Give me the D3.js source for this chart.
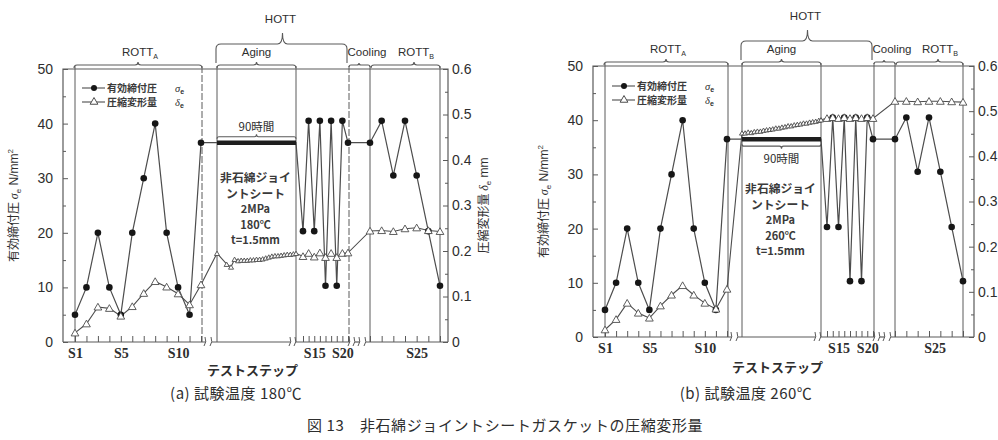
<!DOCTYPE html>
<html><head><meta charset="utf-8">
<script src="https://cdn.jsdelivr.net/npm/d3@7/dist/d3.min.js"></script>
<style>body{margin:0;background:#fff}svg{display:block}</style>
</head><body>
<script>
// ---------------- DATA ----------------
// test steps
const stepsROTTA = [1,2,3,4,5,6,7,8,9,10,11,12];
const stepsHOTT  = [13,14,15,16,17,18,19,20,21];
const stepsROTTB = [22,23,24,25,26,27,28];
// effective gasket stress sigma_e (N/mm2) - same in both panels
const sigmaROTTA = [5,10,20,10,5,20,30,40,20,10,5,36.5];
const sigmaHOTT  = [20.3,40.5,20.3,40.5,10.3,40.5,10.3,40.5,36.5];
const sigmaROTTB = [36.5,40.5,30.5,40.5,30.5,20.3,10.3];
const agingSigmaHours = [0,90];
const agingSigma = [36.5,36.5];
// compression deformation delta_e (mm), panel (a) 180C
const deltaA_ROTTA = [0.02,0.04,0.077,0.074,0.057,0.078,0.107,0.133,0.121,0.106,0.082,0.126];
const agingHoursA  = [0,11,16,20,24,27.5,31,34.5,38,41.5,45,48.5,52,55.5,59,62.5,66,69.5,73,76.5,80,83.5,87,90];
const deltaA_aging = [0.195,0.171,0.165,0.182,0.179,0.180,0.180,0.180,0.181,0.181,0.182,0.182,0.183,0.185,0.187,0.189,0.190,0.190,0.191,0.192,0.193,0.193,0.194,0.195];
const deltaA_HOTT  = [0.188,0.195,0.187,0.196,0.186,0.195,0.186,0.195,0.196];
const deltaA_ROTTB = [0.244,0.245,0.243,0.249,0.251,0.245,0.243];
// panel (b) 260C
const deltaB_ROTTA = [0.016,0.039,0.075,0.053,0.042,0.069,0.093,0.114,0.093,0.075,0.062,0.106];
const agingHoursB  = [0,3.5,7,10.5,14,17.5,21,24.5,28,31.5,35,38.5,42,45.5,49,52.5,56,59.5,63,66.5,70,73.5,77,80.5,84,87.5,90];
const deltaB_aging = [0.452,0.452,0.454,0.453,0.455,0.456,0.456,0.458,0.459,0.460,0.461,0.463,0.463,0.465,0.466,0.468,0.468,0.470,0.471,0.472,0.474,0.474,0.476,0.477,0.478,0.480,0.481];
const deltaB_HOTT  = [0.484,0.486,0.484,0.486,0.484,0.486,0.484,0.486,0.484];
const deltaB_ROTTB = [0.522,0.522,0.521,0.522,0.522,0.521,0.520];
// ticks
const yTicksL = [0,10,20,30,40,50];
const yMinorL = [5,15,25,35,45];
const yTicksR = [0,0.1,0.2,0.3,0.4,0.5,0.6];
const yMinorR = [0.05,0.15,0.25,0.35,0.45,0.55];
const xTickLabels = ["S1","S5","S10","S15","S20","S25"];
const xLabelStepsA = [1,5,10,15,20,26];
const xLabelStepsB = [1,5,10,15,20,25.5];
const specimenLines = ["非石綿ジョイ","ントシート","2MPa"];

// ---------------- LAYOUT ----------------
const W=998,H=440;
const FN="'Liberation Sans', Arial, sans-serif";
const FJ="'Noto Sans CJK JP', sans-serif";
const FS="'Liberation Serif', 'DejaVu Serif', serif";
const INK="#2e2e2e", LN="#4d4d4d", FR="#5a5a5a";

const panels=[
 {L:63,R:448,T:69,B:342,knots:[75,201,303,348,370,440],age:[217,296],
  dROTTA:deltaA_ROTTA,dAgeH:agingHoursA,dAge:deltaA_aging,dHOTT:deltaA_HOTT,dROTTB:deltaA_ROTTB,
  temp:"180℃",hoursAbove:true,blockTop:182,legendY:88,labelSteps:xLabelStepsA,
  caption:"(a) 試験温度 180℃",capX:236,titleLX:18,titleRX:488,xTitleY:375,dashed:true},
 {L:593,R:974,T:66,B:337,knots:[605,727,827,873,895,963],age:[742,821],
  dROTTA:deltaB_ROTTA,dAgeH:agingHoursB,dAge:deltaB_aging,dHOTT:deltaB_HOTT,dROTTB:deltaB_ROTTB,
  temp:"260℃",hoursAbove:false,blockTop:193,legendY:86,labelSteps:xLabelStepsB,
  caption:"(b) 試験温度 260℃",capX:746,titleLX:548,titleRX:null,xTitleY:372,dashed:false}
];

const svg=d3.select("body").append("svg").attr("width",W).attr("height",H);
svg.append("rect").attr("width",W).attr("height",H).attr("fill","#fff");

function bracePath(x1,x2,y,h,px,ph,up){
  const s=up?1:-1, r=Math.min(5,h,(px-x1)/2,(x2-px)/2);
  return `M${x1},${y+s*h} L${x1},${y+s*r} Q${x1},${y} ${x1+r},${y} L${px-r},${y} Q${px},${y} ${px},${y-s*ph} Q${px},${y} ${px+r},${y} L${x2-r},${y} Q${x2},${y} ${x2},${y+s*r} L${x2},${y+s*h}`;
}
function subLabel(g,x,y,main,sub,size){
  const t=g.append("text").attr("x",x).attr("y",y).attr("text-anchor","middle")
    .attr("font-family",FN).attr("font-size",size).attr("fill",INK);
  t.append("tspan").text(main);
  t.append("tspan").text(sub).attr("font-size",size*0.62).attr("dy",size*0.25);
  return t;
}

panels.forEach(p=>{
  const g=svg.append("g");
  const yL=d3.scaleLinear([0,50],[p.B,p.T]);
  const yR=d3.scaleLinear([0,0.6],[p.B,p.T]);
  const xS=d3.scaleLinear().domain([1,12,13,21,22,28]).range(p.knots);
  const xH=d3.scaleLinear([0,90],p.age);

  // frame: left, right, top
  g.append("path").attr("d",`M${p.L},${p.B} L${p.L},${p.T} L${p.R},${p.T} L${p.R},${p.B}`)
    .attr("fill","none").attr("stroke",FR).attr("stroke-width",1.2);

  // section box lines
  const boxX=[[xS(1),false],[xS(12)+1,p.dashed],[xH(0),false],[xH(90),false],[xS(21)+1,p.dashed],[xS(22),false],[xS(28),false]];
  boxX.forEach(([x,d])=>{
    g.append("line").attr("x1",x).attr("x2",x).attr("y1",p.T-3).attr("y2",p.B)
      .attr("stroke",FR).attr("stroke-width",1).attr("stroke-dasharray",d?"7,2":null);
  });

  // bottom axis with breaks
  const gaps=[[xS(12)+5,xS(12)+11],[xH(90)-5,xH(90)],[xS(21)+2,xS(21)+7],[xS(21)+12,xS(22)-4]];
  let segs=[], cur=p.L;
  gaps.forEach(([a,b])=>{segs.push([cur,a]);cur=b;});
  segs.push([cur,p.R]);
  segs.forEach(([a,b])=>g.append("line").attr("x1",a).attr("x2",b).attr("y1",p.B).attr("y2",p.B)
     .attr("stroke",FR).attr("stroke-width",1.2));
  gaps.forEach(([a,b])=>{
    [a,b].forEach(x=>g.append("path").attr("d",`M${x-2},${p.B+4} Q${x+1},${p.B} ${x-1},${p.B-5}`)
      .attr("fill","none").attr("stroke",FR).attr("stroke-width",1));
  });
  // step ticks (inward)
  const allSteps=stepsROTTA.concat(stepsHOTT,stepsROTTB);
  const ta=g.append("g").attr("transform",`translate(0,${p.B})`)
    .call(d3.axisBottom(xS).tickValues(allSteps).tickSize(-6).tickFormat(""));
  ta.select(".domain").remove();
  ta.selectAll("line").attr("stroke",FR);
  // step labels
  const la=g.append("g").attr("transform",`translate(0,${p.B})`)
    .call(d3.axisBottom(xS).tickValues(p.labelSteps).tickSize(0).tickPadding(6)
      .tickFormat((d,i)=>xTickLabels[i]));
  la.select(".domain").remove();
  la.selectAll("text").attr("font-family",FS).attr("font-weight","bold").attr("font-size",14).attr("fill",INK);

  // left axis
  const axL=g.append("g").attr("transform",`translate(${p.L},0)`)
    .call(d3.axisLeft(yL).tickValues(yTicksL).tickSize(-5).tickPadding(10));
  axL.select(".domain").remove();
  axL.selectAll("line").attr("stroke",FR);
  axL.selectAll("text").attr("font-family",FN).attr("font-size",14).attr("fill",INK);
  const axLm=g.append("g").attr("transform",`translate(${p.L},0)`)
    .call(d3.axisLeft(yL).tickValues(yMinorL).tickSize(-3).tickFormat(""));
  axLm.select(".domain").remove(); axLm.selectAll("line").attr("stroke",FR);
  // right axis
  const axR=g.append("g").attr("transform",`translate(${p.R},0)`)
    .call(d3.axisRight(yR).tickValues(yTicksR).tickSize(-5).tickPadding(4)
      .tickFormat(d=>d===0?"0":d3.format(".1f")(d)));
  axR.select(".domain").remove();
  axR.selectAll("line").attr("stroke",FR);
  axR.selectAll("text").attr("font-family",FN).attr("font-size",14).attr("fill",INK);
  const axRm=g.append("g").attr("transform",`translate(${p.R},0)`)
    .call(d3.axisRight(yR).tickValues(yMinorR).tickSize(-3).tickFormat(""));
  axRm.select(".domain").remove(); axRm.selectAll("line").attr("stroke",FR);

  // axis titles
  const cy=(p.T+p.B)/2;
  const tl=g.append("text").attr("transform",`translate(${p.titleLX},${cy}) rotate(-90)`)
    .attr("text-anchor","middle").attr("font-size",12).attr("fill",INK).attr("font-family",FJ);
  tl.append("tspan").text("有効締付圧 ");
  tl.append("tspan").text("σ").attr("font-style","italic").attr("font-family",FS);
  tl.append("tspan").text("e").attr("font-size",8).attr("dy",3).attr("font-family",FN);
  tl.append("tspan").text(" N/mm").attr("dy",-3).attr("font-family",FN);
  tl.append("tspan").text("2").attr("font-size",8).attr("dy",-5).attr("font-family",FN);
  if(p.titleRX){
    const tr=g.append("text").attr("transform",`translate(${p.titleRX},${cy}) rotate(-90)`)
      .attr("text-anchor","middle").attr("font-size",12).attr("fill",INK).attr("font-family",FJ);
    tr.append("tspan").text("圧縮変形量 ");
    tr.append("tspan").text("δ").attr("font-style","italic").attr("font-family",FS);
    tr.append("tspan").text("e").attr("font-size",8).attr("dy",3).attr("font-family",FN);
    tr.append("tspan").text(" mm").attr("dy",-3).attr("font-family",FN);
  }
  g.append("text").attr("x",xH(45)-4).attr("y",p.xTitleY).attr("text-anchor","middle")
    .attr("font-family",FJ).attr("font-size",13).attr("font-weight","bold").attr("fill",INK).text("テストステップ");

  // braces & section labels
  const addBrace=(d)=>g.append("path").attr("d",d).attr("fill","none").attr("stroke",FR).attr("stroke-width",1.1);
  const by=p.T-4;
  addBrace(bracePath(xS(1)-1,xS(12)+1,by,3,(xS(1)+xS(12))/2,3,true));
  addBrace(bracePath(xH(0),xH(90),by,3,(xH(0)+xH(90))/2,3,true));
  addBrace(bracePath(xS(21)+1,xS(22),by,2,(xS(21)+xS(22))/2,2,true));
  addBrace(bracePath(xS(22)+1,xS(28),by,3,(xS(22)+xS(28))/2+9,3,true));
  const hy=p.T-25;
  addBrace(bracePath(xH(0)-1,xS(21)-1,hy,19,(xH(0)+xS(21))/2,11,true));
  const ly=p.T-13;
  subLabel(g,(xS(1)+xS(12))/2+2,ly,"ROTT","A",11.5);
  g.append("text").attr("x",(xH(0)+xH(90))/2).attr("y",ly).attr("text-anchor","middle")
    .attr("font-family",FN).attr("font-size",11.5).attr("fill",INK).text("Aging");
  g.append("text").attr("x",(xS(21)+xS(22))/2+8).attr("y",ly).attr("text-anchor","middle")
    .attr("font-family",FN).attr("font-size",11.5).attr("fill",INK).text("Cooling");
  subLabel(g,(xS(22)+xS(28))/2+11,ly,"ROTT","B",11.5);
  g.append("text").attr("x",(xH(0)+xS(21))/2-2).attr("y",p.T-46).attr("text-anchor","middle")
    .attr("font-family",FN).attr("font-size",11.5).attr("fill",INK).text("HOTT");

  // 90 hours annotation
  const yT=yL(agingSigma[0]);
  const ax0=xH(0), ax1=xH(90), amid=(ax0+ax1)/2;
  if(p.hoursAbove){
    addBrace(bracePath(ax0,ax1,yT-6,2,amid,2.5,true));
    g.append("text").attr("x",amid).attr("y",yT-12).attr("text-anchor","middle")
      .attr("font-family",FJ).attr("font-size",11.5).attr("fill",INK).text("90時間");
  } else {
    addBrace(bracePath(ax0,ax1,yT+7,2,amid,2.5,false));
    g.append("text").attr("x",amid).attr("y",yT+24).attr("text-anchor","middle")
      .attr("font-family",FJ).attr("font-size",11.5).attr("fill",INK).text("90時間");
  }
  // specimen text block
  const block=specimenLines.concat([p.temp,"t=1.5mm"]);
  block.forEach((s,i)=>g.append("text").attr("x",amid-1).attr("y",p.blockTop+i*15.6)
    .attr("text-anchor","middle").attr("font-family",FJ).attr("font-size",i<2?11.8:11)
    .attr("font-weight","bold").attr("fill","#3a3a3a").text(s));

  // ---- series ----
  const line=d3.line().x(d=>d.x).y(d=>d.y);
  const sig=[]
    .concat(stepsROTTA.map((s,i)=>({x:xS(s),y:yL(sigmaROTTA[i]),m:1})))
    .concat(agingSigmaHours.map((h,i)=>({x:xH(h),y:yL(agingSigma[i]),m:0})))
    .concat(stepsHOTT.map((s,i)=>({x:xS(s),y:yL(sigmaHOTT[i]),m:1})))
    .concat(stepsROTTB.map((s,i)=>({x:xS(s),y:yL(sigmaROTTB[i]),m:1})));
  const del=[]
    .concat(stepsROTTA.map((s,i)=>({x:xS(s),y:yR(p.dROTTA[i]),m:1})))
    .concat(p.dAgeH.map((h,i)=>({x:xH(h),y:yR(p.dAge[i]),m:2})))
    .concat(stepsHOTT.map((s,i)=>({x:xS(s),y:yR(p.dHOTT[i]),m:1})))
    .concat(stepsROTTB.map((s,i)=>({x:xS(s),y:yR(p.dROTTB[i]),m:1})));

  g.append("path").attr("d",line(del)).attr("fill","none").attr("stroke",LN).attr("stroke-width",1.1);
  g.append("path").attr("d",line(sig)).attr("fill","none").attr("stroke",LN).attr("stroke-width",1.2);
  g.append("path").attr("d",line(agingSigmaHours.map((h,i)=>({x:xH(h),y:yL(agingSigma[i])}))))
    .attr("fill","none").attr("stroke","#1e1e1e").attr("stroke-width",4.5);

  g.selectAll(null).data(sig.filter(d=>d.m)).join("circle")
    .attr("cx",d=>d.x).attr("cy",d=>d.y).attr("r",3.3).attr("fill","#161616");
  const triBig=d3.symbol(d3.symbolTriangle,26)(), triSmall=d3.symbol(d3.symbolTriangle,11)();
  g.selectAll(null).data(del).join("path")
    .attr("d",d=>d.m===2?triSmall:triBig)
    .attr("transform",d=>`translate(${d.x},${d.y+0.8})`)
    .attr("fill","#fff").attr("stroke",LN).attr("stroke-width",0.9);

  // legend
  const lx=p.L+19, lyy=p.legendY;
  [[0,"有効締付圧","σ"],[1,"圧縮変形量","δ"]].forEach(([k,lab,sym])=>{
    const yy=lyy+k*14;
    g.append("line").attr("x1",lx).attr("x2",lx+23).attr("y1",yy).attr("y2",yy).attr("stroke",LN).attr("stroke-width",1.1);
    if(k===0) g.append("circle").attr("cx",lx+12).attr("cy",yy).attr("r",3).attr("fill","#161616");
    else g.append("path").attr("d",triBig).attr("transform",`translate(${lx+12},${yy})`).attr("fill","#fff").attr("stroke",LN);
    g.append("text").attr("x",lx+25).attr("y",yy+4).attr("font-family",FJ).attr("font-size",10)
      .attr("font-weight","bold").attr("fill","#3a3a3a").text(lab);
    const st=g.append("text").attr("x",lx+93).attr("y",yy+4).attr("font-family",FS).attr("font-size",10.5).attr("fill",INK);
    st.append("tspan").text(sym).attr("font-style","italic");
    st.append("tspan").text("e").attr("font-size",7).attr("dy",2).attr("font-family",FN).attr("font-weight","bold");
  });

  // caption
  g.append("text").attr("x",p.capX).attr("y",399).attr("text-anchor","middle")
    .attr("font-family",FJ).attr("font-size",15).attr("fill",INK).attr("letter-spacing",0.5).text(p.caption);
});

svg.append("text").attr("x",505).attr("y",431).attr("text-anchor","middle")
  .attr("font-family",FJ).attr("font-size",15).attr("fill",INK).attr("letter-spacing",0.6)
  .text("図 13　非石綿ジョイントシートガスケットの圧縮変形量");
</script>
</body></html>
